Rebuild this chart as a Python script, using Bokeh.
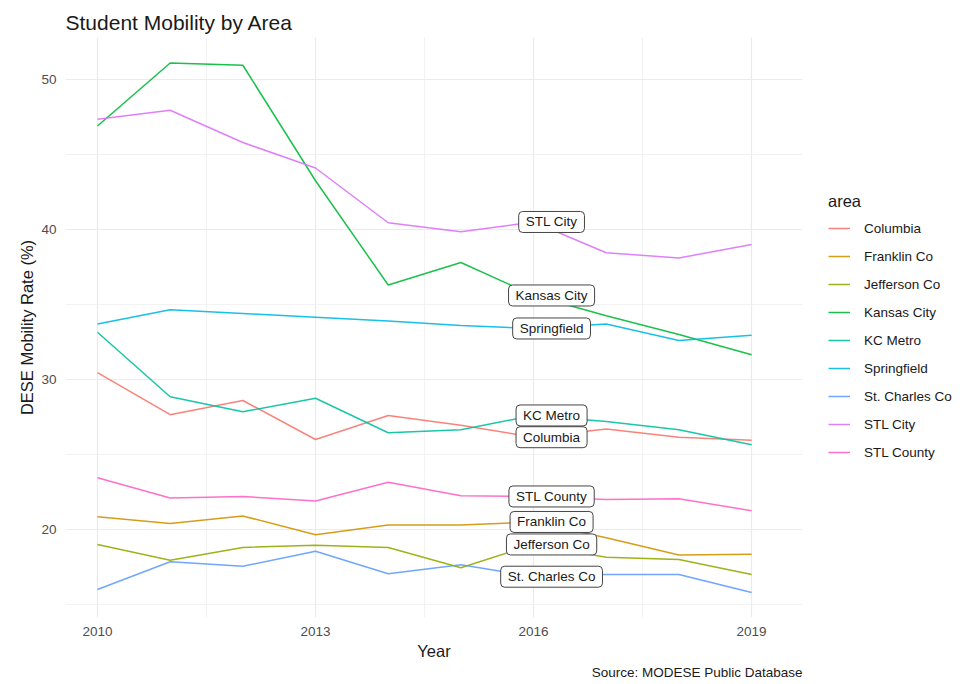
from bokeh.plotting import figure
from bokeh.models import (Range1d, FixedTicker, Legend, LegendItem, Title,
                          ColumnDataSource)
from bokeh.core.properties import value
from bokeh.embed import file_html
from bokeh.resources import INLINE

years = [2010, 2011, 2012, 2013, 2014, 2015, 2016, 2017, 2018, 2019]

areas = ["Columbia", "Franklin Co", "Jefferson Co", "Kansas City", "KC Metro",
         "Springfield", "St. Charles Co", "STL City", "STL County"]

columbia = [30.45, 27.65, 28.6, 26.0, 27.6, 26.95, 26.15, 26.7, 26.15, 25.95]
franklin_co = [20.85, 20.4, 20.9, 19.65, 20.3, 20.3, 20.5, 19.45, 18.3, 18.35]
jefferson_co = [19.0, 17.95, 18.8, 18.95, 18.8, 17.45, 19.0, 18.15, 18.0, 17.0]
kansas_city = [46.9, 51.1, 50.95, 43.25, 36.3, 37.8, 35.6, 34.25, 33.0, 31.65]
kc_metro = [33.15, 28.85, 27.85, 28.75, 26.45, 26.65, 27.6, 27.2, 26.65, 25.65]
springfield = [33.7, 34.65, 34.4, 34.15, 33.9, 33.6, 33.4, 33.7, 32.6, 32.95]
st_charles_co = [16.0, 17.85, 17.55, 18.55, 17.05, 17.65, 16.85, 17.0, 17.0, 15.8]
stl_city = [47.35, 47.95, 45.8, 44.1, 40.45, 39.85, 40.5, 38.45, 38.1, 39.0]
stl_county = [23.45, 22.1, 22.2, 21.9, 23.15, 22.25, 22.2, 22.0, 22.05, 21.25]

series = [columbia, franklin_co, jefferson_co, kansas_city, kc_metro,
          springfield, st_charles_co, stl_city, stl_county]

colors = ["#F8766D", "#D39200", "#93AA00", "#00BA38", "#00C19F",
          "#00B9E3", "#619CFF", "#DB72FB", "#FF61C3"]

label_year = 2016
x_ticks = [2010, 2013, 2016, 2019]
x_minor = [2011.5, 2014.5, 2017.5]
y_ticks = [20, 30, 40, 50]
y_minor = [15, 25, 35, 45]

FONT = "Liberation Sans"

p = figure(frame_width=737, frame_height=580, output_backend="svg",
           toolbar_location=None,
           x_range=Range1d(2009.56, 2019.70), y_range=Range1d(14.13, 52.8),
           min_border_left=65, min_border_right=0, min_border_top=37,
           min_border_bottom=65, background_fill_color="white",
           border_fill_color="white", outline_line_color=None)

p.title.text = "Student Mobility by Area"
p.title.text_font = FONT
p.title.text_font_size = "21px"
p.title.text_font_style = "normal"
p.title.text_color = "#1A1A1A"
p.title.align = "left"
p.title.standoff = 8

# grids
p.xaxis.ticker = FixedTicker(ticks=x_ticks, minor_ticks=x_minor)
p.yaxis.ticker = FixedTicker(ticks=y_ticks, minor_ticks=y_minor)
for g in (p.xgrid, p.ygrid):
    g.grid_line_color = "#EBEBEB"
    g.grid_line_width = 1.2
    g.minor_grid_line_color = "#EFEFEF"
    g.minor_grid_line_width = 0.8

for ax in (p.xaxis, p.yaxis):
    ax.axis_line_color = None
    ax.major_tick_line_color = None
    ax.minor_tick_line_color = None
    ax.major_tick_out = 0
    ax.minor_tick_out = 0
    ax.major_label_text_font = FONT
    ax.major_label_text_font_size = "13.5px"
    ax.major_label_text_color = "#4D4D4D"
    ax.axis_label_text_font = FONT
    ax.axis_label_text_font_size = "16.5px"
    ax.axis_label_text_font_style = "normal"
    ax.axis_label_text_color = "#1A1A1A"

p.xaxis.axis_label = "Year"
p.xaxis.major_label_standoff = 9
p.xaxis.axis_label_standoff = 3
p.yaxis.axis_label = "DESE Mobility Rate (%)"
p.yaxis.major_label_standoff = 9
p.yaxis.axis_label_standoff = 2

items = []
for name, vals, col in zip(areas, series, colors):
    r = p.line(years, vals, line_color=col, line_width=1.5, line_alpha=0.9)
    items.append(LegendItem(label=name, renderers=[r]))

# boxed labels at 2016
lab_src = ColumnDataSource(dict(
    x=[label_year] * len(areas),
    y=[vals[years.index(label_year)] for vals in series],
    text=areas,
))
p.text(x="x", y="y", text="text", source=lab_src, x_offset=18,
       text_align="center", text_baseline="middle",
       text_font=value(FONT), text_font_size="13.5px", text_color="#1A1A1A",
       background_fill_color="white", border_line_color="#444444",
       border_line_width=1, padding=(7, 3), border_radius=4)

legend = Legend(items=items, location="center_left", padding=0, margin=26,
                border_line_color=None, background_fill_alpha=0,
                glyph_width=22, glyph_height=20, label_height=20,
                spacing=8, label_standoff=14,
                label_text_font=FONT, label_text_font_size="13.5px",
                label_text_color="#1A1A1A",
                title="area", title_text_font=FONT,
                title_text_font_size="16.5px", title_text_font_style="normal",
                title_text_color="#1A1A1A", title_standoff=7)
p.add_layout(legend, "right")

p.add_layout(Title(text="Source: MODESE Public Database", align="right",
                   text_font=FONT, text_font_size="13.5px",
                   text_font_style="normal", text_color="#1A1A1A",
                   standoff=1), "below")

open("out.html", "w").write(file_html(p, INLINE))
